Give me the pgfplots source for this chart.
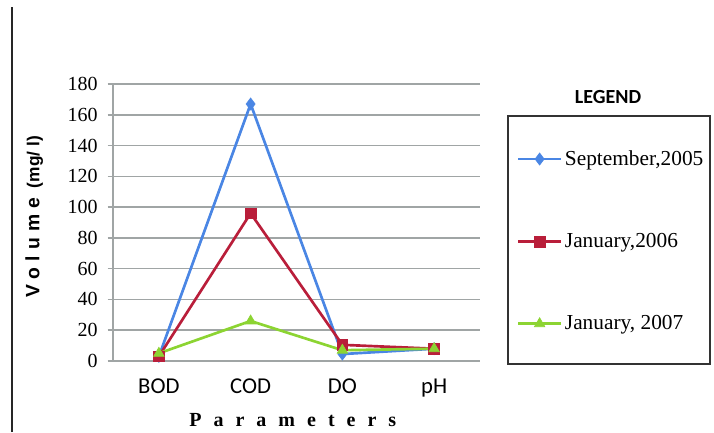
\documentclass[border=0pt]{standalone}
\usepackage{pgfplots}
\pgfplotsset{compat=1.18}
\usepackage{fontspec}
\setmainfont{Liberation Serif}
\newfontfamily\catfont{Carlito}
\newfontfamily\ylabfont[LetterSpace=33]{Liberation Sans}
\newfontfamily\ysans{Liberation Sans}
\newfontfamily\xlabfont[LetterSpace=60]{Liberation Serif}
\definecolor{sblue}{RGB}{74,134,228}
\definecolor{sred}{RGB}{185,30,58}
\definecolor{sgreen}{RGB}{140,212,50}
\definecolor{gridgray}{RGB}{160,165,165}
\begin{document}
\begin{tikzpicture}
\useasboundingbox (0,0) rectangle (535.5pt,324pt);
\draw[line width=1.6pt, black!85] (9pt,0pt) -- (9pt,318.75pt);
\begin{axis}[
  at={(84.75pt,53.25pt)}, anchor=south west,
  scale only axis, width=275.25pt, height=207.75pt,
  xmin=-0.5, xmax=3.5, ymin=0, ymax=180,
  xtick={0,1,2,3}, xticklabels={BOD,COD,DO,pH},
  ytick={0,20,...,180},
  axis x line*=bottom, axis y line*=left,
  axis line style={gridgray, line width=1.1pt},
  ymajorgrids, grid style={gridgray, line width=1.1pt},
  xtick style={draw=none},
  ytick style={gridgray, line width=1.1pt},
  tick align=outside, major tick length=4pt,
  /pgf/number format/assume math mode=true,
  yticklabel style={font=\fontsize{15}{15}\selectfont, xshift=-4pt},
  xticklabel style={font=\catfont\fontsize{17}{17}\selectfont, yshift=-6pt},
  ylabel={{\ylabfont\bfseries\fontsize{14.5}{14.5}\selectfont Volume}\hspace{7pt}{\ysans\bfseries\fontsize{13}{13}\selectfont (mg/ l)}},
  ylabel style={at={(axis description cs:-0.215,0.52)}, anchor=center},
  xlabel={\xlabfont\bfseries Parameters},
  xlabel style={at={(axis description cs:0.49,-0.213)}, anchor=center, font=\fontsize{15}{15}\selectfont},
  legend style={draw=none, fill=none, at={(axis description cs:1.1,0.77)}, anchor=north west,
    font=\fontsize{16}{16}\selectfont, row sep=45.5pt, inner sep=0pt},
  legend cell align=left,
  legend image code/.code={\draw[#1, mark repeat=2, mark phase=2] plot coordinates {(0pt,0pt) (16pt,0pt) (32pt,0pt)};},
  clip=false,
]
\addplot[sblue, line width=2pt, mark=diamond*, mark size=4.5pt, mark options={solid, line width=0.5pt}]
  coordinates {(0,3) (1,167) (2,4.5) (3,8)};
\addlegendentry{September,2005}
\addplot[sred, line width=2pt, mark=square*, mark size=4pt, mark options={solid, line width=0.5pt}]
  coordinates {(0,3) (1,96) (2,10.5) (3,8)};
\addlegendentry{January,2006}
\addplot[sgreen, line width=2pt, mark=triangle*, mark size=4.5pt, mark options={solid, line width=0.5pt}]
  coordinates {(0,5) (1,26) (2,7) (3,8)};
\addlegendentry{January, 2007}
\end{axis}
\draw[line width=1pt, black!80] (381pt,51pt) rectangle (532.5pt,237pt);
\node[font=\catfont\bfseries\fontsize{15}{15}\selectfont] at (456pt,251pt) {LEGEND};
\end{tikzpicture}
\end{document}
